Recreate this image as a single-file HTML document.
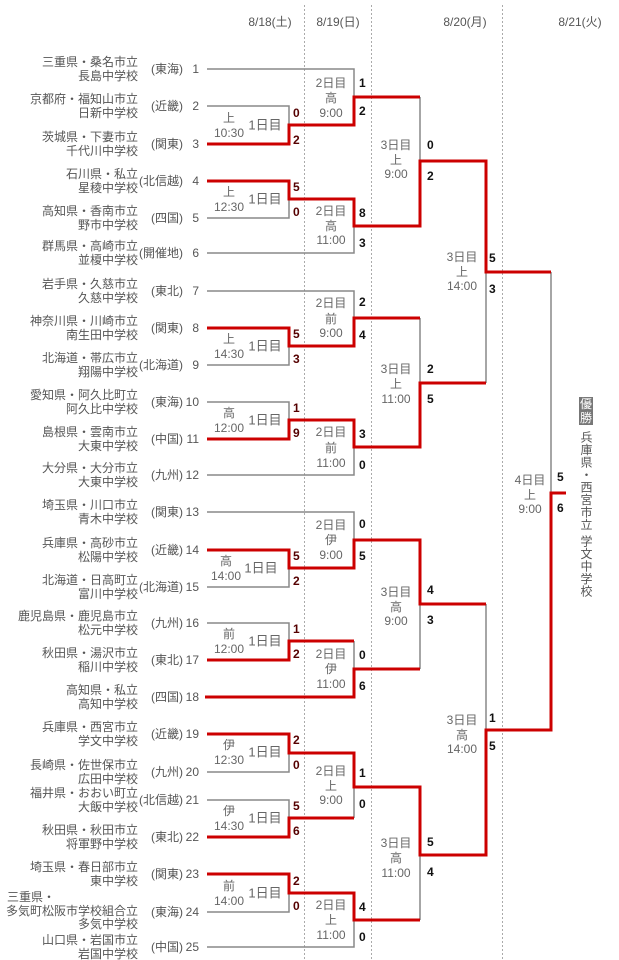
<!DOCTYPE html>
<html><head><meta charset="utf-8">
<style>
html,body{margin:0;padding:0;background:#fff;}
svg{display:block;}
text{font-family:"Liberation Sans","Noto Sans CJK JP",sans-serif;}
.t{font-size:12px;fill:#555;dominant-baseline:central;}
.l{font-size:12px;fill:#666;text-anchor:middle;dominant-baseline:central;}
.d{font-size:13px;fill:#666;text-anchor:middle;dominant-baseline:central;}
.s{font-size:12px;font-weight:bold;fill:#111;dominant-baseline:central;}
.s1{font-size:12px;font-weight:bold;fill:#500;dominant-baseline:central;}
.g{fill:none;stroke:#888;stroke-width:1.5;}
.r{fill:none;stroke:#c00;stroke-width:3;}
.e{text-anchor:end;}
</style></head>
<body>
<svg width="619" height="960" viewBox="0 0 619 960">
<g stroke="#aaa" stroke-width="1" stroke-dasharray="2,2">
<line x1="304.5" y1="5" x2="304.5" y2="960"/>
<line x1="371.5" y1="5" x2="371.5" y2="960"/>
<line x1="502.5" y1="5" x2="502.5" y2="960"/>
</g>
<text class="t" x="270" y="22" text-anchor="middle">8/18(土)</text>
<text class="t" x="338" y="22" text-anchor="middle">8/19(日)</text>
<text class="t" x="465" y="22" text-anchor="middle">8/20(月)</text>
<text class="t" x="580" y="22" text-anchor="middle">8/21(火)</text>

<path class="g" d="M207 69H354V97"/>
<path class="g" d="M207 106H289V125"/>
<path class="g" d="M207 218H289V199"/>
<path class="g" d="M207 253H354V226"/>
<path class="g" d="M420 97V161"/>
<path class="g" d="M207 291H354V318"/>
<path class="g" d="M207 365H289V346"/>
<path class="g" d="M207 402H289V420"/>
<path class="g" d="M207 475H354V447"/>
<path class="g" d="M420 318V383"/>
<path class="g" d="M486 383V272"/>
<path class="g" d="M207 512H354V540"/>
<path class="g" d="M207 587H289V568"/>
<path class="g" d="M207 623H289V641"/>
<path class="g" d="M354 641V669"/>
<path class="g" d="M420 669V604"/>
<path class="g" d="M207 772H289V753"/>
<path class="g" d="M207 800H289V818"/>
<path class="g" d="M354 818V787"/>
<path class="g" d="M207 912H289V893"/>
<path class="g" d="M207 947H354V920"/>
<path class="g" d="M420 920V855"/>
<path class="g" d="M486 604V730"/>
<path class="g" d="M551 272V493"/>

<path class="r" d="M207 144H289V125H354V97H420"/>
<path class="r" d="M207 181H289V199H354V226H420V161H486V272H551"/>
<path class="r" d="M207 328H289V346H354V318H420"/>
<path class="r" d="M207 439H289V420H354V447H420V383H486"/>
<path class="r" d="M207 550H289V568H354V540H420V604H486"/>
<path class="r" d="M207 660H289V641H354"/>
<path class="r" d="M205 697H354V669H420"/>
<path class="r" d="M207 734H289V753H354V787H420V855H486V730H551V493H566"/>
<path class="r" d="M207 837H289V818H354"/>
<path class="r" d="M207 874H289V893H354V920H420"/>

<g class="t">
<text class="t e" x="138" y="62">三重県・桑名市立</text><text class="t e" x="138" y="76">長島中学校</text><text class="t e" x="183" y="69">(東海)</text><text class="t e" x="199" y="69">1</text>
<text class="t e" x="138" y="99">京都府・福知山市立</text><text class="t e" x="138" y="113">日新中学校</text><text class="t e" x="183" y="106">(近畿)</text><text class="t e" x="199" y="106">2</text>
<text class="t e" x="138" y="137">茨城県・下妻市立</text><text class="t e" x="138" y="151">千代川中学校</text><text class="t e" x="183" y="144">(関東)</text><text class="t e" x="199" y="144">3</text>
<text class="t e" x="138" y="174">石川県・私立</text><text class="t e" x="138" y="188">星稜中学校</text><text class="t e" x="183" y="181">(北信越)</text><text class="t e" x="199" y="181">4</text>
<text class="t e" x="138" y="211">高知県・香南市立</text><text class="t e" x="138" y="225">野市中学校</text><text class="t e" x="183" y="218">(四国)</text><text class="t e" x="199" y="218">5</text>
<text class="t e" x="138" y="246">群馬県・高崎市立</text><text class="t e" x="138" y="260">並榎中学校</text><text class="t e" x="183" y="253">(開催地)</text><text class="t e" x="199" y="253">6</text>
<text class="t e" x="138" y="284">岩手県・久慈市立</text><text class="t e" x="138" y="298">久慈中学校</text><text class="t e" x="183" y="291">(東北)</text><text class="t e" x="199" y="291">7</text>
<text class="t e" x="138" y="321">神奈川県・川崎市立</text><text class="t e" x="138" y="335">南生田中学校</text><text class="t e" x="183" y="328">(関東)</text><text class="t e" x="199" y="328">8</text>
<text class="t e" x="138" y="358">北海道・帯広市立</text><text class="t e" x="138" y="372">翔陽中学校</text><text class="t e" x="183" y="365">(北海道)</text><text class="t e" x="199" y="365">9</text>
<text class="t e" x="138" y="395">愛知県・阿久比町立</text><text class="t e" x="138" y="409">阿久比中学校</text><text class="t e" x="183" y="402">(東海)</text><text class="t e" x="199" y="402">10</text>
<text class="t e" x="138" y="432">島根県・雲南市立</text><text class="t e" x="138" y="446">大東中学校</text><text class="t e" x="183" y="439">(中国)</text><text class="t e" x="199" y="439">11</text>
<text class="t e" x="138" y="468">大分県・大分市立</text><text class="t e" x="138" y="482">大東中学校</text><text class="t e" x="183" y="475">(九州)</text><text class="t e" x="199" y="475">12</text>
<text class="t e" x="138" y="505">埼玉県・川口市立</text><text class="t e" x="138" y="519">青木中学校</text><text class="t e" x="183" y="512">(関東)</text><text class="t e" x="199" y="512">13</text>
<text class="t e" x="138" y="543">兵庫県・高砂市立</text><text class="t e" x="138" y="557">松陽中学校</text><text class="t e" x="183" y="550">(近畿)</text><text class="t e" x="199" y="550">14</text>
<text class="t e" x="138" y="580">北海道・日高町立</text><text class="t e" x="138" y="594">富川中学校</text><text class="t e" x="183" y="587">(北海道)</text><text class="t e" x="199" y="587">15</text>
<text class="t e" x="138" y="616">鹿児島県・鹿児島市立</text><text class="t e" x="138" y="630">松元中学校</text><text class="t e" x="183" y="623">(九州)</text><text class="t e" x="199" y="623">16</text>
<text class="t e" x="138" y="653">秋田県・湯沢市立</text><text class="t e" x="138" y="667">稲川中学校</text><text class="t e" x="183" y="660">(東北)</text><text class="t e" x="199" y="660">17</text>
<text class="t e" x="138" y="690">高知県・私立</text><text class="t e" x="138" y="704">高知中学校</text><text class="t e" x="183" y="697">(四国)</text><text class="t e" x="199" y="697">18</text>
<text class="t e" x="138" y="727">兵庫県・西宮市立</text><text class="t e" x="138" y="741">学文中学校</text><text class="t e" x="183" y="734">(近畿)</text><text class="t e" x="199" y="734">19</text>
<text class="t e" x="138" y="765">長崎県・佐世保市立</text><text class="t e" x="138" y="779">広田中学校</text><text class="t e" x="183" y="772">(九州)</text><text class="t e" x="199" y="772">20</text>
<text class="t e" x="138" y="793">福井県・おおい町立</text><text class="t e" x="138" y="807">大飯中学校</text><text class="t e" x="183" y="800">(北信越)</text><text class="t e" x="199" y="800">21</text>
<text class="t e" x="138" y="830">秋田県・秋田市立</text><text class="t e" x="138" y="844">将軍野中学校</text><text class="t e" x="183" y="837">(東北)</text><text class="t e" x="199" y="837">22</text>
<text class="t e" x="138" y="867">埼玉県・春日部市立</text><text class="t e" x="138" y="881">東中学校</text><text class="t e" x="183" y="874">(関東)</text><text class="t e" x="199" y="874">23</text>
<text class="t" x="7" y="897">三重県・</text><text class="t e" x="138" y="911">多気町松阪市学校組合立</text><text class="t e" x="138" y="924">多気中学校</text><text class="t e" x="183" y="912">(東海)</text><text class="t e" x="199" y="912">24</text>
<text class="t e" x="138" y="940">山口県・岩国市立</text><text class="t e" x="138" y="954">岩国中学校</text><text class="t e" x="183" y="947">(中国)</text><text class="t e" x="199" y="947">25</text>
</g>

<text class="l" x="229" y="118">上</text><text class="l" x="229" y="133">10:30</text><text class="d" x="265" y="125">1日目</text>
<text class="l" x="229" y="192">上</text><text class="l" x="229" y="207">12:30</text><text class="d" x="265" y="199">1日目</text>
<text class="l" x="229" y="339">上</text><text class="l" x="229" y="354">14:30</text><text class="d" x="265" y="346">1日目</text>
<text class="l" x="229" y="413">高</text><text class="l" x="229" y="428">12:00</text><text class="d" x="265" y="420">1日目</text>
<text class="l" x="226" y="561">高</text><text class="l" x="226" y="576">14:00</text><text class="d" x="261" y="568">1日目</text>
<text class="l" x="229" y="634">前</text><text class="l" x="229" y="649">12:00</text><text class="d" x="265" y="641">1日目</text>
<text class="l" x="229" y="745">伊</text><text class="l" x="229" y="760">12:30</text><text class="d" x="265" y="752">1日目</text>
<text class="l" x="229" y="811">伊</text><text class="l" x="229" y="826">14:30</text><text class="d" x="265" y="818">1日目</text>
<text class="l" x="229" y="886">前</text><text class="l" x="229" y="901">14:00</text><text class="d" x="265" y="893">1日目</text>

<text class="l" x="331" y="83">2日目</text><text class="l" x="331" y="98">高</text><text class="l" x="331" y="113">9:00</text>
<text class="l" x="331" y="211">2日目</text><text class="l" x="331" y="226">高</text><text class="l" x="331" y="240">11:00</text>
<text class="l" x="331" y="303">2日目</text><text class="l" x="331" y="319">前</text><text class="l" x="331" y="333">9:00</text>
<text class="l" x="331" y="432">2日目</text><text class="l" x="331" y="448">前</text><text class="l" x="331" y="463">11:00</text>
<text class="l" x="331" y="525">2日目</text><text class="l" x="331" y="540">伊</text><text class="l" x="331" y="555">9:00</text>
<text class="l" x="331" y="654">2日目</text><text class="l" x="331" y="669">伊</text><text class="l" x="331" y="684">11:00</text>
<text class="l" x="331" y="771">2日目</text><text class="l" x="331" y="786">上</text><text class="l" x="331" y="800">9:00</text>
<text class="l" x="331" y="905">2日目</text><text class="l" x="331" y="920">上</text><text class="l" x="331" y="935">11:00</text>

<text class="l" x="396" y="145">3日目</text><text class="l" x="396" y="160">上</text><text class="l" x="396" y="174">9:00</text>
<text class="l" x="396" y="369">3日目</text><text class="l" x="396" y="384">上</text><text class="l" x="396" y="399">11:00</text>
<text class="l" x="396" y="592">3日目</text><text class="l" x="396" y="607">高</text><text class="l" x="396" y="621">9:00</text>
<text class="l" x="396" y="843">3日目</text><text class="l" x="396" y="858">高</text><text class="l" x="396" y="873">11:00</text>
<text class="l" x="462" y="257">3日目</text><text class="l" x="462" y="272">上</text><text class="l" x="462" y="286">14:00</text>
<text class="l" x="462" y="720">3日目</text><text class="l" x="462" y="735">高</text><text class="l" x="462" y="749">14:00</text>
<text class="l" x="530" y="480">4日目</text><text class="l" x="530" y="495">上</text><text class="l" x="530" y="509">9:00</text>

<text class="s1" x="293" y="113">0</text><text class="s1" x="293" y="140">2</text>
<text class="s1" x="293" y="187">5</text><text class="s1" x="293" y="212">0</text>
<text class="s1" x="293" y="334">5</text><text class="s1" x="293" y="359">3</text>
<text class="s1" x="293" y="408">1</text><text class="s1" x="293" y="433">9</text>
<text class="s1" x="293" y="556">5</text><text class="s1" x="293" y="581">2</text>
<text class="s1" x="293" y="629">1</text><text class="s1" x="293" y="654">2</text>
<text class="s1" x="293" y="740">2</text><text class="s1" x="293" y="765">0</text>
<text class="s1" x="293" y="806">5</text><text class="s1" x="293" y="831">6</text>
<text class="s1" x="293" y="881">2</text><text class="s1" x="293" y="906">0</text>
<text class="s" x="359" y="83">1</text><text class="s" x="359" y="111">2</text>
<text class="s" x="359" y="213">8</text><text class="s" x="359" y="243">3</text>
<text class="s" x="359" y="302">2</text><text class="s" x="359" y="335">4</text>
<text class="s" x="359" y="434">3</text><text class="s" x="359" y="465">0</text>
<text class="s" x="359" y="524">0</text><text class="s" x="359" y="556">5</text>
<text class="s" x="359" y="655">0</text><text class="s" x="359" y="686">6</text>
<text class="s" x="359" y="773">1</text><text class="s" x="359" y="804">0</text>
<text class="s" x="359" y="907">4</text><text class="s" x="359" y="937">0</text>
<text class="s" x="427" y="145">0</text><text class="s" x="427" y="176">2</text>
<text class="s" x="427" y="369">2</text><text class="s" x="427" y="399">5</text>
<text class="s" x="427" y="590">4</text><text class="s" x="427" y="620">3</text>
<text class="s" x="427" y="842">5</text><text class="s" x="427" y="872">4</text>
<text class="s" x="489" y="258">5</text><text class="s" x="489" y="289">3</text>
<text class="s" x="489" y="718">1</text><text class="s" x="489" y="746">5</text>
<text class="s" x="557" y="477">5</text><text class="s" x="557" y="508">6</text>

<rect x="579" y="397" width="14" height="28" fill="#777"/>
<text x="586" y="404" font-size="12" fill="#fff" text-anchor="middle" dominant-baseline="central">優</text>
<text x="586" y="418" font-size="12" fill="#fff" text-anchor="middle" dominant-baseline="central">勝</text>
<text x="586" y="431" font-size="12" fill="#555" style="writing-mode:vertical-rl;" letter-spacing="0.5">兵庫県・西宮市立 学文中学校</text>
</svg>
</body></html>
